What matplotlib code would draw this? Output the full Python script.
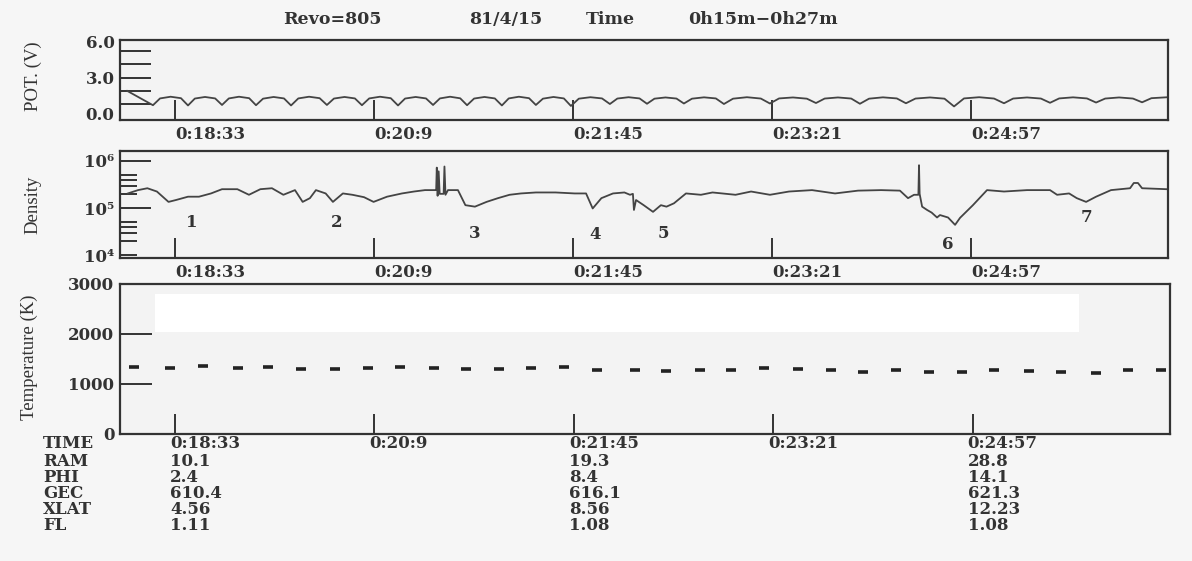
import matplotlib
matplotlib.use("Agg")
import matplotlib.pyplot as plt
from matplotlib.transforms import blended_transform_factory, offset_copy
from matplotlib.patches import Rectangle
from matplotlib.ticker import FixedLocator, FixedFormatter

# time axis is in seconds after 0h00m
T_RANGE = (1086.5, 1592.0)
TICK_T = [1113, 1209, 1305, 1401, 1497]
TICK_LABELS = ["0:18:33", "0:20:9", "0:21:45", "0:23:21", "0:24:57"]

# probe potential (V)
POT_T = [1090.0, 1102.4,
         1105.8, 1110.9, 1115.9, 1119.3,
         1122.6, 1127.5, 1132.4, 1135.7,
         1139.0, 1143.9, 1148.8, 1152.1,
         1155.5, 1160.6, 1165.6, 1169.0,
         1172.5, 1177.7, 1182.8, 1186.3,
         1189.7, 1194.8, 1199.8, 1203.2,
         1206.7, 1211.9, 1217.1, 1220.6,
         1224.0, 1229.1, 1234.1, 1237.5,
         1240.8, 1245.7, 1250.6, 1253.9,
         1257.3, 1262.3, 1267.3, 1270.7,
         1274.0, 1278.9, 1283.8, 1287.1,
         1290.5, 1295.6, 1300.6, 1304.0,
         1307.8, 1313.4, 1319.0, 1322.8,
         1326.4, 1331.8, 1337.1, 1340.7,
         1344.3, 1349.6, 1354.9, 1358.5,
         1362.4, 1368.2, 1373.9, 1377.8,
         1382.2, 1388.9, 1395.6, 1400.0,
         1404.4, 1411.1, 1417.8, 1422.2,
         1426.4, 1432.8, 1439.2, 1443.4,
         1447.8, 1454.5, 1461.2, 1465.6,
         1470.2, 1477.2, 1484.2, 1488.8,
         1493.6, 1500.9, 1508.1, 1512.9,
         1517.3, 1524.0, 1530.7, 1535.1,
         1539.5, 1546.2, 1552.9, 1557.3,
         1561.7, 1568.4, 1575.1, 1579.5,
         1584.0, 1592.0]
POT_V = [1.90, 0.72,
         1.28, 1.42, 1.30, 0.70,
         1.27, 1.40, 1.28, 0.74,
         1.28, 1.42, 1.30, 0.72,
         1.26, 1.40, 1.28, 0.70,
         1.28, 1.42, 1.30, 0.74,
         1.27, 1.40, 1.28, 0.72,
         1.28, 1.42, 1.30, 0.70,
         1.27, 1.40, 1.28, 0.74,
         1.28, 1.42, 1.29, 0.72,
         1.27, 1.40, 1.28, 0.70,
         1.28, 1.42, 1.30, 0.74,
         1.26, 1.40, 1.28, 0.66,
         1.26, 1.38, 1.28, 0.82,
         1.27, 1.38, 1.28, 0.84,
         1.26, 1.36, 1.27, 0.86,
         1.26, 1.37, 1.28, 0.82,
         1.26, 1.38, 1.27, 0.86,
         1.28, 1.36, 1.26, 0.90,
         1.27, 1.36, 1.27, 0.84,
         1.26, 1.37, 1.28, 0.88,
         1.27, 1.36, 1.26, 0.62,
         1.28, 1.38, 1.27, 0.88,
         1.27, 1.36, 1.27, 0.92,
         1.28, 1.37, 1.28, 0.94,
         1.27, 1.36, 1.27, 0.96,
         1.30, 1.38]
POT_TICKS = [0.8, 1.9, 3.0, 4.1, 5.2]

# electron density
DENS_T = [1090.3, 1095.2, 1099.7, 1104.3, 1109.9, 1113.5, 1119.3, 1124.6, 1130.4,
          1135.7, 1143.1, 1148.7, 1154.2, 1159.8, 1165.3, 1170.9, 1174.6, 1178.1,
          1181.0, 1185.7, 1189.2, 1194.0, 1198.6, 1204.2, 1208.8, 1215.3, 1222.5,
          1228.3, 1233.6, 1238.4, 1239.0, 1239.3, 1239.7, 1240.2, 1240.7, 1242.6,
          1243.0, 1243.5, 1244.7, 1249.5, 1253.1, 1257.7, 1263.3, 1268.8, 1274.4,
          1279.9, 1287.1, 1296.6, 1305.8, 1311.3, 1314.5, 1318.7, 1324.3, 1329.8,
          1332.5, 1333.9, 1334.4, 1335.4, 1339.1, 1343.6, 1347.4, 1350.1, 1353.7,
          1359.5, 1366.7, 1372.3, 1383.4, 1390.9, 1400.0, 1409.2, 1420.3, 1431.4,
          1442.5, 1453.6, 1462.7, 1466.6, 1469.5, 1471.6, 1471.9, 1472.2, 1473.4,
          1475.8, 1478.0, 1480.6, 1482.0, 1485.9, 1489.3, 1491.7, 1497.9, 1504.7,
          1512.9, 1524.0, 1535.1, 1538.5, 1544.3, 1548.0, 1552.5, 1557.3, 1564.5,
          1573.7, 1575.5, 1577.5, 1579.5, 1591.4]
DENS_V = [2.04e5, 2.40e5, 2.63e5, 2.24e5, 1.35e5, 1.48e5, 1.74e5, 1.74e5, 2.04e5,
          2.51e5, 2.51e5, 1.91e5, 2.51e5, 2.63e5, 1.91e5, 2.40e5, 1.35e5, 1.62e5,
          2.40e5, 2.04e5, 1.35e5, 2.04e5, 1.91e5, 1.70e5, 1.35e5, 1.74e5, 2.04e5,
          2.24e5, 2.40e5, 2.40e5, 2.40e5, 7.2e5, 1.82e5, 6.0e5, 2.0e5, 2.0e5,
          7.6e5, 1.91e5, 2.40e5, 2.40e5, 1.15e5, 1.07e5, 1.35e5, 1.62e5, 1.91e5,
          2.04e5, 2.14e5, 2.14e5, 2.04e5, 2.04e5, 9.8e4, 1.62e5, 2.04e5, 2.14e5,
          1.91e5, 2.0e5, 9.1e4, 1.48e5, 1.15e5, 8.3e4, 1.15e5, 1.07e5, 1.26e5,
          2.04e5, 1.91e5, 2.14e5, 1.91e5, 2.24e5, 1.91e5, 2.24e5, 2.40e5, 2.04e5,
          2.34e5, 2.40e5, 2.34e5, 1.62e5, 1.91e5, 1.91e5, 8.1e5, 2.0e5, 1.07e5,
          9.1e4, 8.0e4, 6.3e4, 7.1e4, 6.3e4, 4.4e4, 6.2e4, 1.15e5, 2.40e5,
          2.24e5, 2.40e5, 2.40e5, 1.91e5, 2.04e5, 1.62e5, 1.35e5, 1.74e5, 2.40e5,
          2.63e5, 3.4e5, 3.4e5, 2.63e5, 2.51e5]
EVENT_LABELS = ["1", "2", "3", "4", "5", "6", "7"]
EVENT_T = [1121.0, 1191.1, 1257.7, 1315.6, 1348.4, 1485.9, 1552.5]
EVENT_N = [5.0e4, 5.0e4, 2.9e4, 2.7e4, 2.9e4, 1.7e4, 6.4e4]

# electron temperature (K)
TEMP_T = [1093.2, 1110.8, 1126.5, 1143.1, 1157.9, 1173.8, 1190.2, 1206.1, 1221.5,
          1237.5, 1253.1, 1268.8, 1284.6, 1300.2, 1316.1, 1334.4, 1349.2, 1365.8,
          1380.7, 1396.4, 1413.1, 1428.7, 1444.4, 1460.1, 1475.8, 1491.7, 1507.1,
          1524.0, 1539.4, 1556.3, 1571.8, 1587.7]
TEMP_V = [1340, 1312, 1352, 1320, 1340, 1300, 1306, 1320, 1332, 1312, 1300, 1300,
          1320, 1332, 1286, 1272, 1252, 1286, 1272, 1320, 1306, 1272, 1246, 1272,
          1246, 1246, 1272, 1266, 1246, 1226, 1286, 1272]

# orbit table under the plot
ROW_NAMES = ["TIME", "RAM", "PHI", "GEC", "XLAT", "FL"]
RAM = ["10.1", "19.3", "28.8"]
PHI = ["2.4", "8.4", "14.1"]
GEC = ["610.4", "616.1", "621.3"]
XLAT = ["4.56", "8.56", "12.23"]
FL = ["1.11", "1.08", "1.08"]

INK = "#333333"
SERIF = "DejaVu Serif"
W, H = 1192, 561

fig = plt.figure(figsize=(W / 100, H / 100), dpi=100, facecolor="#f6f6f6")


def panel(left, top, right, bottom):
    ax = fig.add_axes([left / W, 1 - bottom / H, (right - left) / W, (bottom - top) / H])
    ax.set_facecolor("#f3f3f3")
    for s in ax.spines.values():
        s.set_color(INK)
        s.set_linewidth(1.6)
    ax.set_xlim(*T_RANGE)
    ax.set_xticks(TICK_T)
    ax.tick_params(axis="x", direction="in", length=14.5, width=1.4, color=INK,
                   pad=4, labelsize=12, labelcolor=INK)
    ax.tick_params(axis="y", which="both", direction="in", width=1.4, color=INK,
                   pad=4, labelsize=12, labelcolor=INK)
    return ax


def style_labels(ax):
    for lbl in ax.get_xticklabels() + ax.get_yticklabels(which="both"):
        lbl.set_fontfamily(SERIF)
        lbl.set_fontweight("bold")


# --- potential
ax_p = panel(120, 40, 1168, 120)
ax_p.plot(POT_T, POT_V, color="#444444", lw=1.3)
ax_p.set_ylim(-0.5, 6.1)
ax_p.set_yticks([0, 3, 6], ["0.0", "3.0", "6.0"])
ax_p.yaxis.remove_overlapping_locs = False
ax_p.yaxis.set_minor_locator(FixedLocator(POT_TICKS))
ax_p.tick_params(axis="y", which="major", length=0)
ax_p.tick_params(axis="y", which="minor", length=22)
ax_p.set_xticklabels(TICK_LABELS, ha="left")
style_labels(ax_p)

# --- density
ax_d = panel(120, 151, 1168, 258)
ax_d.set_yscale("log")
ax_d.plot(DENS_T, DENS_V, color="#444444", lw=1.3)
ax_d.set_ylim(10 ** 3.94, 10 ** 6.21)
ax_d.yaxis.remove_overlapping_locs = False
ax_d.yaxis.set_major_locator(FixedLocator([1e5, 1e6]))
ax_d.yaxis.set_major_formatter(FixedFormatter(["10\u2075", "10\u2076"]))
minor = [1e4, 2e4, 3e4, 4e4, 5e4, 2e5, 3e5, 4e5, 5e5]
ax_d.yaxis.set_minor_locator(FixedLocator(minor))
ax_d.yaxis.set_minor_formatter(FixedFormatter(["10\u2074"] + [""] * 8))
ax_d.tick_params(axis="y", which="major", length=22)
ax_d.tick_params(axis="y", which="minor", length=12, labelsize=12, labelcolor=INK)
ax_d.set_xticklabels(TICK_LABELS, ha="left")
style_labels(ax_d)
for s, t, n in zip(EVENT_LABELS, EVENT_T, EVENT_N):
    ax_d.text(t, n, s, ha="center", va="center", fontsize=12,
              fontfamily=SERIF, fontweight="bold", color=INK)

# --- temperature
ax_t = panel(120, 284, 1170, 434)
ax_t.add_patch(Rectangle((0.033, 0.68), 0.88, 0.25, transform=ax_t.transAxes,
                         facecolor="white", edgecolor="none", zorder=0))
ax_t.plot(TEMP_T, TEMP_V, ls="none", marker="_", ms=6.5, mew=2.6, color="#222222")
ax_t.set_ylim(0, 3000)
ax_t.set_yticks([0, 1000, 2000, 3000], ["0", "1000", "2000", "3000"])
ax_t.tick_params(axis="y", which="major", length=23)
ax_t.set_xticklabels([])
style_labels(ax_t)

# --- axis titles
ylab = dict(rotation=90, ha="center", va="center", fontsize=13.5,
            fontfamily="Liberation Serif", color=INK)
fig.text(33 / W, 1 - 76 / H, "POT. (V)", **ylab)
fig.text(33 / W, 1 - 205 / H, "Density", **ylab)
fig.text(29 / W, 1 - 357 / H, "Temperature (K)", **ylab)

# --- header
hdr = dict(ha="left", va="center", fontsize=12.5, fontfamily=SERIF,
           fontweight="bold", color=INK)
for x, s in [(283, "Revo=805"), (469, "81/4/15"), (586, "Time"), (688, "0h15m\u22120h27m")]:
    fig.text(x / W, 1 - 20 / H, s, **hdr)

# --- orbit table
row_y = [444, 461, 477, 493, 509, 525]
txt = dict(ha="left", va="center", fontsize=12, fontfamily=SERIF,
           fontweight="bold", color=INK)
for name, y in zip(ROW_NAMES, row_y):
    fig.text(43 / W, 1 - y / H, name, **txt)
col_tr = offset_copy(blended_transform_factory(ax_t.transData, fig.transFigure),
                     fig=fig, x=-5, units="dots")
for t, s in zip(TICK_T, TICK_LABELS):
    fig.text(t, 1 - row_y[0] / H, s, transform=col_tr, **txt)
for i, col in enumerate([0, 2, 4]):
    for vals, y in zip([RAM, PHI, GEC, XLAT, FL], row_y[1:]):
        fig.text(TICK_T[col], 1 - y / H, vals[i], transform=col_tr, **txt)

fig.savefig("out.png", dpi=100, facecolor=fig.get_facecolor())
